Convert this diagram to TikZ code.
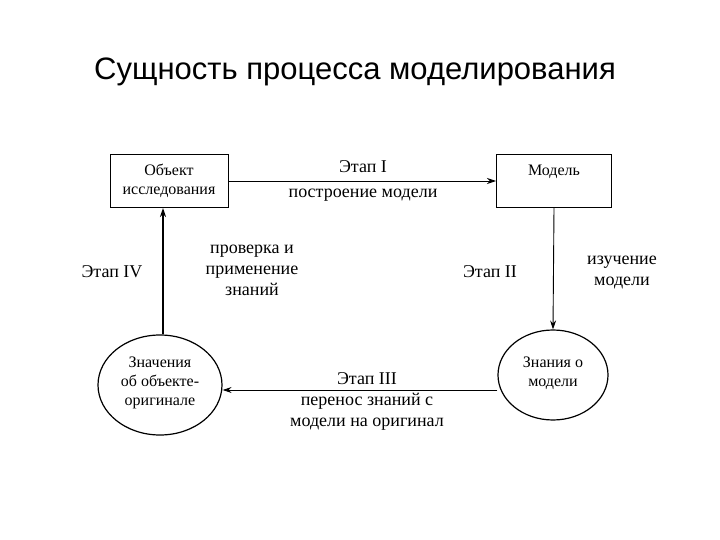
\documentclass[tikz,border=0pt]{standalone}
\usepackage{fontspec}
\setmainfont{Liberation Serif}
\newfontfamily\ttl{Liberation Sans}
\usetikzlibrary{shapes.geometric,arrows.meta}
\begin{document}
\begin{tikzpicture}[x=1pt,y=-1pt,
  lbl/.style={font=\fontsize{18}{21}\selectfont,align=center,inner sep=0pt},
  sml/.style={font=\fontsize{16}{19}\selectfont,align=center,inner sep=0pt},
  box/.style={draw,line width=1pt,minimum width=118pt,minimum height=53pt},
  ell/.style={draw,ellipse,line width=1.2pt},
  arr/.style={-{Stealth[length=9pt,width=6pt]},line width=0.9pt}]
\useasboundingbox (0,0) rectangle (720,540);
\node[font=\ttl\fontsize{31}{36}\selectfont] (t) at (355,72) {Сущность процесса моделирования};
\node[box] (b1) at (169,181) {};
\node[sml] (b1t) at (169,181) {Объект\\исследования};
\node[box,minimum width=115pt] (b2) at (554,181) {};
\node[sml] (b2t) at (554,172) {Модель};
\node[ell,minimum width=110pt,minimum height=90pt] (e2) at (553,375) {};
\node[sml] (e2t) at (553,373) {Знания о\\модели};
\node[ell,minimum width=124pt,minimum height=100pt] (e1) at (160,385) {};
\node[sml] (e1t) at (160,383) {Значения\\об объекте-\\оригинале};
\draw[arr] (b1.east) -- (b2.west);
\node[lbl] (l1) at (363,181) {Этап I\\[4pt]построение модели};
\draw[arr] (b2.south) -- (e2.north);
\node[lbl] (l2a) at (490,272) {Этап II};
\node[lbl] (l2b) at (622,272) {изучение\\модели};
\draw[arr] (e2.west |- 0,390) coordinate (c3) -- (e1.east |- 0,390);
\node[lbl] (l3) at (367,401) {Этап III\\перенос знаний с\\модели на оригинал};
\draw[arr,line width=2pt] (e1.north -| 163,0) -- (b1.south -| 163,0);
\node[lbl] (l4a) at (112,272) {Этап IV};
\node[lbl] (l4b) at (252,270) {проверка и\\применение\\знаний};
\end{tikzpicture}
\end{document}
